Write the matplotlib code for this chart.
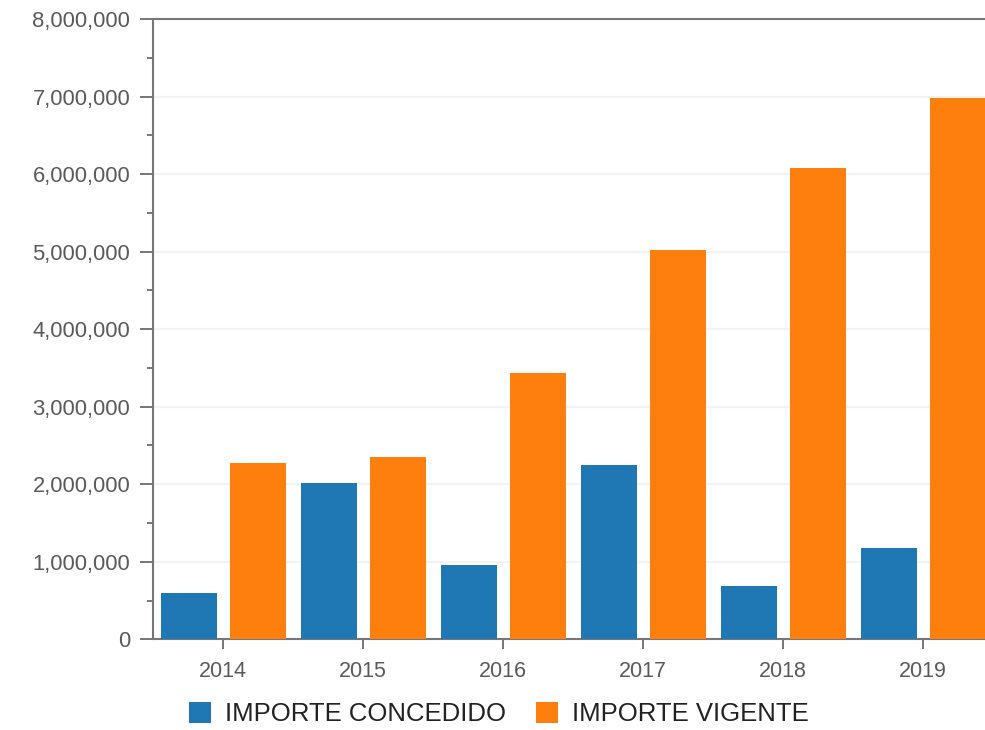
import numpy as np
import matplotlib
matplotlib.use('Agg')
import matplotlib.pyplot as plt
from matplotlib.ticker import FuncFormatter, MultipleLocator

# datos
anios = ['2014', '2015', '2016', '2017', '2018', '2019']
concedido = [600000, 2020000, 952000, 2246000, 693000, 1177000]
vigente = [2277000, 2345000, 3440000, 5020000, 6080000, 6985000]

plt.rcParams['font.family'] = ['Liberation Sans', 'DejaVu Sans']

fig = plt.figure(figsize=(9.85, 7.30), dpi=100)
ax = fig.add_axes([153 / 985, 1 - 639.3 / 730, 840 / 985, 620.3 / 730])

x = np.arange(len(anios))
w = 0.397
ax.bar(x - 0.243, concedido, w, color='#1f77b4', label='IMPORTE CONCEDIDO', zorder=3)
ax.bar(x + 0.248, vigente, w, color='#ff7f0e', label='IMPORTE VIGENTE', zorder=3)

ax.set_xlim(-0.5, len(anios) - 0.5)
ax.set_ylim(0, 8000000)
ax.set_xticks(x)
ax.set_xticklabels(anios)
ax.yaxis.set_major_locator(MultipleLocator(1000000))
ax.yaxis.set_minor_locator(MultipleLocator(500000))
ax.yaxis.set_major_formatter(FuncFormatter(lambda v, p: '{:,.0f}'.format(v)))

# rejilla muy suave
ax.grid(axis='y', color='#f3f3f3', linewidth=1.6, zorder=0)

gris = '#777777'
for s in ['left', 'bottom', 'top', 'right']:
    ax.spines[s].set_color(gris)
    ax.spines[s].set_linewidth(1.5)

ax.tick_params(axis='y', which='major', length=9.4, width=1.4, color=gris,
               labelsize=15.8, labelcolor='#5a5a5a', pad=7)
ax.tick_params(axis='y', which='minor', length=4.3, width=1.4, color=gris)
ax.tick_params(axis='x', length=7.5, width=1.4, color=gris,
               labelsize=15.5, labelcolor='#5a5a5a', pad=8)

leg = fig.legend(loc='center', bbox_to_anchor=(499 / 985, 1 - 714 / 730), ncol=2,
                 frameon=False, fontsize=18.5, handlelength=0.86, handleheight=0.86,
                 handletextpad=0.55, columnspacing=1.17, borderaxespad=0)
for t in leg.get_texts():
    t.set_color('#222222')

fig.savefig('out.png', dpi=100)
